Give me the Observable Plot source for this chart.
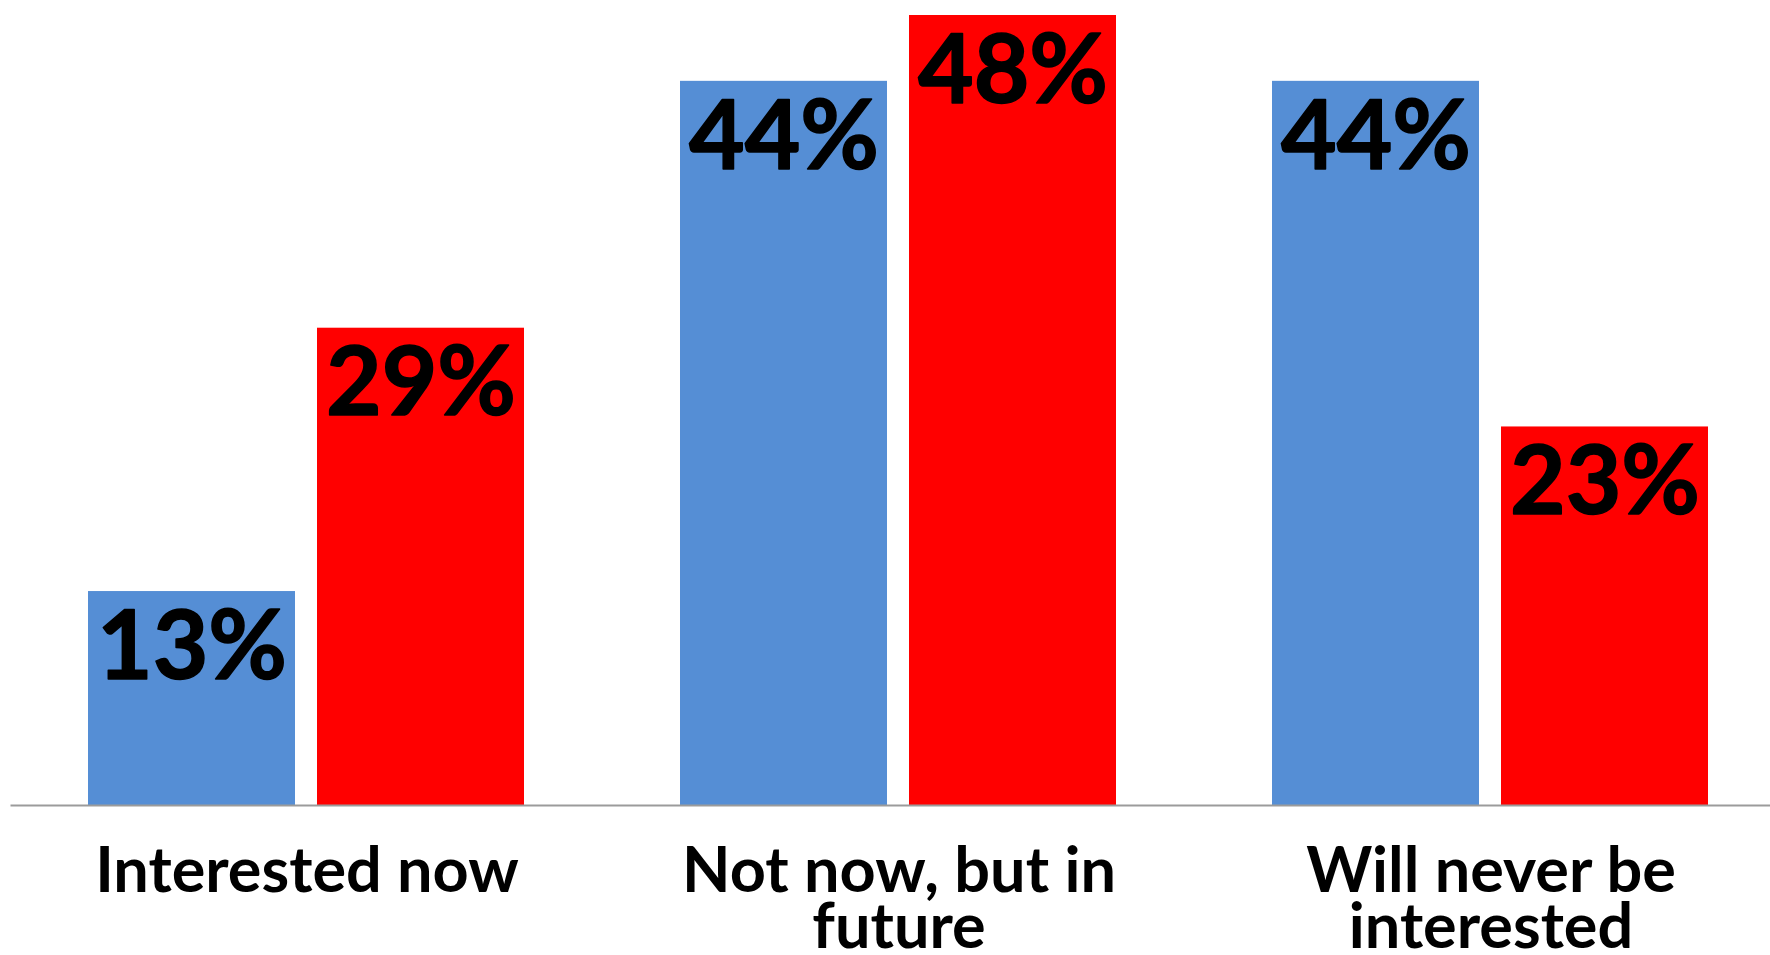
<!DOCTYPE html>
<html>
<head>
<meta charset="utf-8">
<script src="https://cdn.jsdelivr.net/npm/d3@7"></script>
<script src="https://cdn.jsdelivr.net/npm/@observablehq/plot@0.6"></script>
<style>
  html, body { margin: 0; padding: 0; background: #ffffff; }
  #chart { width: 1770px; height: 955px; overflow: hidden; }
</style>
</head>
<body>
<div id="chart"></div>
<script>
// Interest level, two survey groups side by side per answer
const categories = ["Interested now", "Not now, but in future", "Will never be interested"];
const categoryLines = ["Interested now", "Not now, but in\nfuture", "Will never be\ninterested"];
const seriesNames = ["Series 1", "Series 2"];
const series1Values = [13, 44, 44];
const series2Values = [29, 48, 23];
const seriesColors = ["#558ED5", "#FF0000"];

const rows = [];
categories.forEach((c, i) => {
  rows.push({category: c, series: seriesNames[0], value: series1Values[i]});
  rows.push({category: c, series: seriesNames[1], value: series2Values[i]});
});

const chart = Plot.plot({
  width: 1770,
  height: 955,
  marginLeft: 11,
  marginRight: 0,
  marginTop: 15,
  marginBottom: 150,
  style: {fontFamily: "Lato, sans-serif", background: "#ffffff"},
  // facets touch the plot edges so the baseline runs the full width
  fx: {
    domain: categories,
    paddingInner: 0.0304,
    paddingOuter: 0,
    label: null
  },
  x: {domain: seriesNames, paddingInner: 0.098, paddingOuter: 0.3006, align: 0.558, axis: null},
  y: {domain: [0, 48], axis: null},
  color: {domain: seriesNames, range: seriesColors},
  marks: [
    Plot.barY(rows, {fx: "category", x: "series", y: "value", fill: "series"}),
    Plot.text(rows, {
      fx: "category", x: "series", y: "value",
      text: (d) => `${d.value}%`,
      lineAnchor: "top",
      dy: 19,
      fontSize: 96,
      fontWeight: 700,
      fill: "#000000",
      stroke: "#000000",
      strokeWidth: 1.5
    }),
    // baseline across the whole plot, at the bottom edge of the frame (y = 0)
    Plot.frame({anchor: "bottom", facet: "super", stroke: "#9b9b9b", strokeWidth: 2}),
    // category names, centred under each pair of bars
    Plot.axisFx({
      anchor: "bottom",
      tickSize: 0,
      tickPadding: 46,
      dx: 8.5,
      fontSize: 63,
      fontWeight: 700,
      lineHeight: 0.9,
      fill: "#000000",
      tickFormat: (c) => categoryLines[categories.indexOf(c)],
      label: null
    })
  ]
});

document.getElementById("chart").appendChild(chart);
</script>
</body>
</html>
